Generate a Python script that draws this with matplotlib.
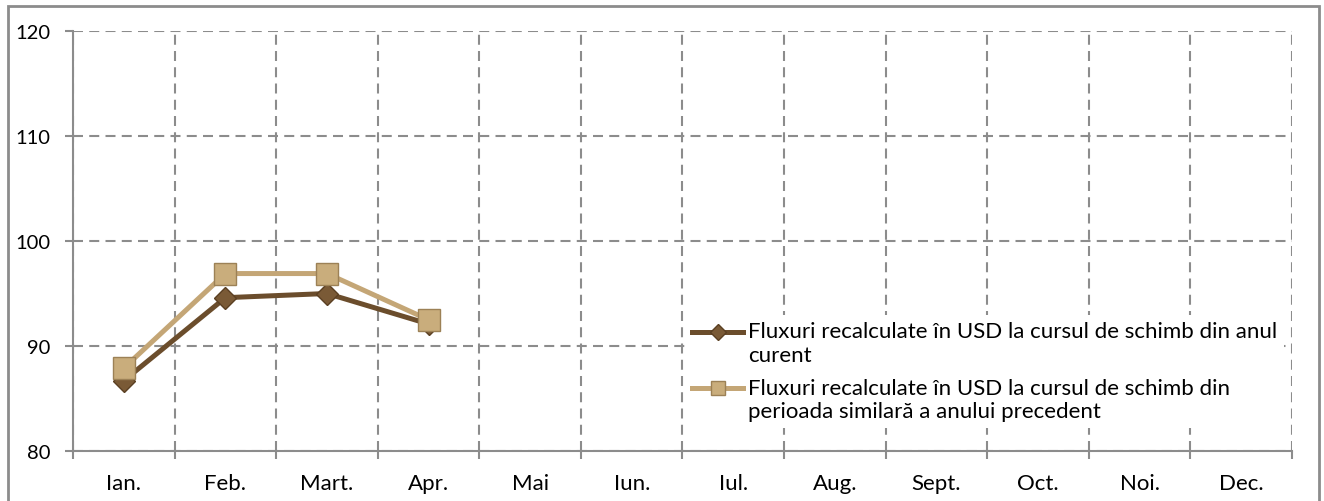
import matplotlib.pyplot as plt
from matplotlib.patches import Rectangle
from matplotlib.legend_handler import HandlerLine2D

# date din grafic
luni = ["Ian.", "Feb.", "Mart.", "Apr.", "Mai", "Iun.", "Iul.", "Aug.",
        "Sept.", "Oct.", "Noi.", "Dec."]
curs_curent = [86.7, 94.6, 95.0, 92.1]
curs_precedent = [87.9, 96.9, 96.9, 92.5]

eticheta_curent = "Fluxuri recalculate în USD la cursul de schimb din anul\ncurent"
eticheta_precedent = ("Fluxuri recalculate în USD la cursul de schimb din\n"
                      "perioada similară a anului precedent")


class HandlerSus(HandlerLine2D):
    """muta simbolul din legenda in dreptul primului rand de text"""

    def create_artists(self, legend, orig_handle, xdescent, ydescent,
                       width, height, fontsize, trans):
        return super().create_artists(legend, orig_handle, xdescent,
                                      ydescent - 17, width, height, fontsize, trans)


plt.rcParams['font.family'] = ['Lato', 'DejaVu Sans']

fig = plt.figure(figsize=(13.24, 5.02), dpi=100)
ax = fig.add_axes([73 / 1324, 50 / 502, 1219 / 1324, 420 / 502])

# chenar gri in jurul figurii
fig.patches.append(Rectangle((8 / 1324, -0.02), 1311 / 1324, 1.0 - 7 / 502 + 0.02,
                             transform=fig.transFigure, fill=False,
                             edgecolor="#8c8c8c", linewidth=2))

x = list(range(len(curs_curent)))
l1, = ax.plot(x, curs_curent, color="#6b4d2c", linewidth=3.6, marker="D",
              markersize=11, markerfacecolor="#7a5a36", markeredgecolor="#5a3f22",
              markeredgewidth=1, label=eticheta_curent, zorder=3)
l2, = ax.plot(x, curs_precedent, color="#c4a676", linewidth=3.6, marker="s",
              markersize=15.5, markerfacecolor="#c9ad7c", markeredgecolor="#9c8156",
              markeredgewidth=1, label=eticheta_precedent, zorder=4)

ax.set_xlim(-0.5, len(luni) - 0.5)
ax.set_ylim(80, 120)
ax.set_yticks([80, 90, 100, 110, 120])
ax.set_xticks(range(len(luni)))
ax.set_xticklabels(luni)
ax.set_xticks([i + 0.5 for i in range(-1, len(luni))], minor=True)

ax.tick_params(axis="x", which="major", length=0, pad=16, labelsize=16)
ax.tick_params(axis="x", which="minor", length=6, width=1.5, color="#8c8c8c")
ax.tick_params(axis="y", length=6, width=1.5, color="#8c8c8c", pad=10, labelsize=14.5)

dash = (0, (4.8, 3))
ax.grid(True, axis="y", which="major", linestyle=dash, color="#8c8c8c", linewidth=1.5)
ax.grid(True, axis="x", which="minor", linestyle=dash, color="#8c8c8c", linewidth=1.5)
ax.set_axisbelow(True)

for s in ["top", "right"]:
    ax.spines[s].set_visible(False)
for s in ["left", "bottom"]:
    ax.spines[s].set_color("#8c8c8c")
    ax.spines[s].set_linewidth(1.5)
    ax.spines[s].set_zorder(2)

leg = ax.legend(loc="lower left", bbox_to_anchor=(0.5025, 0.055), frameon=True,
                facecolor="white", edgecolor="none", framealpha=1, fancybox=False,
                fontsize=16, handlelength=2.3, handletextpad=0.2, labelspacing=0.6,
                borderpad=0.3, borderaxespad=0,
                handler_map={l1: HandlerSus(), l2: HandlerSus()})
for t in leg.get_texts():
    t.set_linespacing(1.2)
for h, ms in zip(leg.legend_handles, [8, 10]):
    h.set_markersize(ms)
leg.set_zorder(5)

fig.savefig("out.png", dpi=100)
